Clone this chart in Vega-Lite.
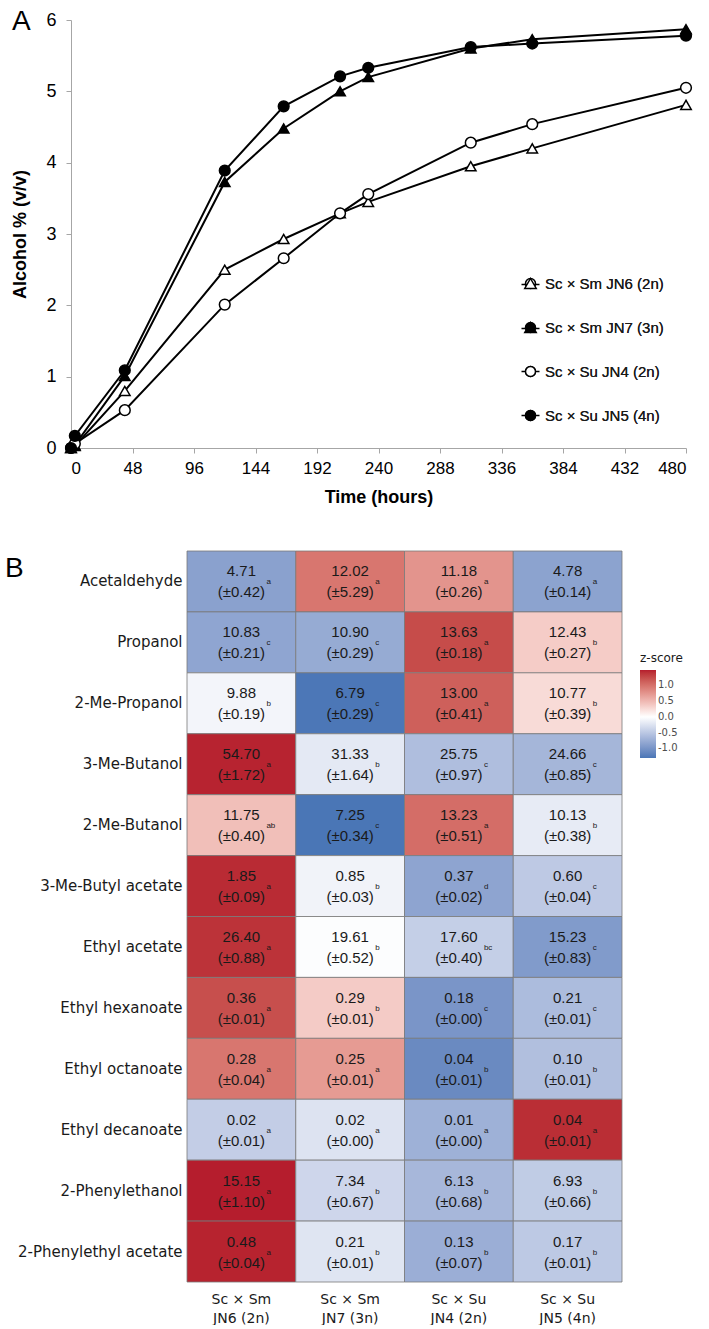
{
  "$schema": "https://vega.github.io/schema/vega-lite/v6.json",
  "background": "white",
  "padding": {"left": 5, "top": 8, "right": 0, "bottom": 0},
  "bounds": "flush",
  "spacing": 103,
  "config": {"view": {"stroke": null}},
  "datasets": {
    "growth": [
      {"series": "Sc × Sm JN6 (2n)", "t": 0, "v": 0},
      {"series": "Sc × Sm JN6 (2n)", "t": 3, "v": 0.03},
      {"series": "Sc × Sm JN6 (2n)", "t": 42, "v": 0.80},
      {"series": "Sc × Sm JN6 (2n)", "t": 120, "v": 2.50},
      {"series": "Sc × Sm JN6 (2n)", "t": 166, "v": 2.93},
      {"series": "Sc × Sm JN6 (2n)", "t": 210, "v": 3.29},
      {"series": "Sc × Sm JN6 (2n)", "t": 232, "v": 3.45},
      {"series": "Sc × Sm JN6 (2n)", "t": 312, "v": 3.95},
      {"series": "Sc × Sm JN6 (2n)", "t": 360, "v": 4.20},
      {"series": "Sc × Sm JN6 (2n)", "t": 480, "v": 4.81},
      {"series": "Sc × Sm JN7 (3n)", "t": 0, "v": 0},
      {"series": "Sc × Sm JN7 (3n)", "t": 3, "v": 0.04},
      {"series": "Sc × Sm JN7 (3n)", "t": 42, "v": 1.01},
      {"series": "Sc × Sm JN7 (3n)", "t": 120, "v": 3.73},
      {"series": "Sc × Sm JN7 (3n)", "t": 166, "v": 4.48},
      {"series": "Sc × Sm JN7 (3n)", "t": 210, "v": 5.00},
      {"series": "Sc × Sm JN7 (3n)", "t": 232, "v": 5.20},
      {"series": "Sc × Sm JN7 (3n)", "t": 312, "v": 5.60},
      {"series": "Sc × Sm JN7 (3n)", "t": 360, "v": 5.73},
      {"series": "Sc × Sm JN7 (3n)", "t": 480, "v": 5.87},
      {"series": "Sc × Su JN4 (2n)", "t": 0, "v": 0},
      {"series": "Sc × Su JN4 (2n)", "t": 3, "v": 0.06},
      {"series": "Sc × Su JN4 (2n)", "t": 42, "v": 0.53},
      {"series": "Sc × Su JN4 (2n)", "t": 120, "v": 2.01},
      {"series": "Sc × Su JN4 (2n)", "t": 166, "v": 2.66},
      {"series": "Sc × Su JN4 (2n)", "t": 210, "v": 3.29},
      {"series": "Sc × Su JN4 (2n)", "t": 232, "v": 3.56},
      {"series": "Sc × Su JN4 (2n)", "t": 312, "v": 4.28},
      {"series": "Sc × Su JN4 (2n)", "t": 360, "v": 4.54},
      {"series": "Sc × Su JN4 (2n)", "t": 480, "v": 5.05},
      {"series": "Sc × Su JN5 (4n)", "t": 0, "v": 0},
      {"series": "Sc × Su JN5 (4n)", "t": 3, "v": 0.17},
      {"series": "Sc × Su JN5 (4n)", "t": 42, "v": 1.09},
      {"series": "Sc × Su JN5 (4n)", "t": 120, "v": 3.89},
      {"series": "Sc × Su JN5 (4n)", "t": 166, "v": 4.79},
      {"series": "Sc × Su JN5 (4n)", "t": 210, "v": 5.21},
      {"series": "Sc × Su JN5 (4n)", "t": 232, "v": 5.33},
      {"series": "Sc × Su JN5 (4n)", "t": 312, "v": 5.62},
      {"series": "Sc × Su JN5 (4n)", "t": 360, "v": 5.67},
      {"series": "Sc × Su JN5 (4n)", "t": 480, "v": 5.78}
    ],
    "aroma": [
      {"compound": "Acetaldehyde", "strain": "Sc × Sm JN6 (2n)", "mean": "4.71", "sd": "(±0.42)", "letter": "a", "z": -0.872},
      {"compound": "Acetaldehyde", "strain": "Sc × Sm JN7 (3n)", "mean": "12.02", "sd": "(±5.29)", "letter": "a", "z": 0.969},
      {"compound": "Acetaldehyde", "strain": "Sc × Su JN4 (2n)", "mean": "11.18", "sd": "(±0.26)", "letter": "a", "z": 0.757},
      {"compound": "Acetaldehyde", "strain": "Sc × Su JN5 (4n)", "mean": "4.78", "sd": "(±0.14)", "letter": "a", "z": -0.854},
      {"compound": "Propanol", "strain": "Sc × Sm JN6 (2n)", "mean": "10.83", "sd": "(±0.21)", "letter": "c", "z": -0.832},
      {"compound": "Propanol", "strain": "Sc × Sm JN7 (3n)", "mean": "10.90", "sd": "(±0.29)", "letter": "c", "z": -0.780},
      {"compound": "Propanol", "strain": "Sc × Su JN4 (2n)", "mean": "13.63", "sd": "(±0.18)", "letter": "a", "z": 1.253},
      {"compound": "Propanol", "strain": "Sc × Su JN5 (4n)", "mean": "12.43", "sd": "(±0.27)", "letter": "b", "z": 0.359},
      {"compound": "2-Me-Propanol", "strain": "Sc × Sm JN6 (2n)", "mean": "9.88", "sd": "(±0.19)", "letter": "b", "z": -0.089},
      {"compound": "2-Me-Propanol", "strain": "Sc × Sm JN7 (3n)", "mean": "6.79", "sd": "(±0.29)", "letter": "c", "z": -1.290},
      {"compound": "2-Me-Propanol", "strain": "Sc × Su JN4 (2n)", "mean": "13.00", "sd": "(±0.41)", "letter": "a", "z": 1.123},
      {"compound": "2-Me-Propanol", "strain": "Sc × Su JN5 (4n)", "mean": "10.77", "sd": "(±0.39)", "letter": "b", "z": 0.256},
      {"compound": "3-Me-Butanol", "strain": "Sc × Sm JN6 (2n)", "mean": "54.70", "sd": "(±1.72)", "letter": "a", "z": 1.467},
      {"compound": "3-Me-Butanol", "strain": "Sc × Sm JN7 (3n)", "mean": "31.33", "sd": "(±1.64)", "letter": "b", "z": -0.198},
      {"compound": "3-Me-Butanol", "strain": "Sc × Su JN4 (2n)", "mean": "25.75", "sd": "(±0.97)", "letter": "c", "z": -0.596},
      {"compound": "3-Me-Butanol", "strain": "Sc × Su JN5 (4n)", "mean": "24.66", "sd": "(±0.85)", "letter": "c", "z": -0.673},
      {"compound": "2-Me-Butanol", "strain": "Sc × Sm JN6 (2n)", "mean": "11.75", "sd": "(±0.40)", "letter": "ab", "z": 0.453},
      {"compound": "2-Me-Butanol", "strain": "Sc × Sm JN7 (3n)", "mean": "7.25", "sd": "(±0.34)", "letter": "c", "z": -1.304},
      {"compound": "2-Me-Butanol", "strain": "Sc × Su JN4 (2n)", "mean": "13.23", "sd": "(±0.51)", "letter": "a", "z": 1.031},
      {"compound": "2-Me-Butanol", "strain": "Sc × Su JN5 (4n)", "mean": "10.13", "sd": "(±0.38)", "letter": "b", "z": -0.180},
      {"compound": "3-Me-Butyl acetate", "strain": "Sc × Sm JN6 (2n)", "mean": "1.85", "sd": "(±0.09)", "letter": "a", "z": 1.431},
      {"compound": "3-Me-Butyl acetate", "strain": "Sc × Sm JN7 (3n)", "mean": "0.85", "sd": "(±0.03)", "letter": "b", "z": -0.104},
      {"compound": "3-Me-Butyl acetate", "strain": "Sc × Su JN4 (2n)", "mean": "0.37", "sd": "(±0.02)", "letter": "d", "z": -0.840},
      {"compound": "3-Me-Butyl acetate", "strain": "Sc × Su JN5 (4n)", "mean": "0.60", "sd": "(±0.04)", "letter": "c", "z": -0.487},
      {"compound": "Ethyl acetate", "strain": "Sc × Sm JN6 (2n)", "mean": "26.40", "sd": "(±0.88)", "letter": "a", "z": 1.392},
      {"compound": "Ethyl acetate", "strain": "Sc × Sm JN7 (3n)", "mean": "19.61", "sd": "(±0.52)", "letter": "b", "z": -0.021},
      {"compound": "Ethyl acetate", "strain": "Sc × Su JN4 (2n)", "mean": "17.60", "sd": "(±0.40)", "letter": "bc", "z": -0.439},
      {"compound": "Ethyl acetate", "strain": "Sc × Su JN5 (4n)", "mean": "15.23", "sd": "(±0.83)", "letter": "c", "z": -0.932},
      {"compound": "Ethyl hexanoate", "strain": "Sc × Sm JN6 (2n)", "mean": "0.36", "sd": "(±0.01)", "letter": "a", "z": 1.231},
      {"compound": "Ethyl hexanoate", "strain": "Sc × Sm JN7 (3n)", "mean": "0.29", "sd": "(±0.01)", "letter": "b", "z": 0.369},
      {"compound": "Ethyl hexanoate", "strain": "Sc × Su JN4 (2n)", "mean": "0.18", "sd": "(±0.00)", "letter": "c", "z": -0.985},
      {"compound": "Ethyl hexanoate", "strain": "Sc × Su JN5 (4n)", "mean": "0.21", "sd": "(±0.01)", "letter": "c", "z": -0.615},
      {"compound": "Ethyl octanoate", "strain": "Sc × Sm JN6 (2n)", "mean": "0.28", "sd": "(±0.04)", "letter": "a", "z": 0.971},
      {"compound": "Ethyl octanoate", "strain": "Sc × Sm JN7 (3n)", "mean": "0.25", "sd": "(±0.01)", "letter": "a", "z": 0.712},
      {"compound": "Ethyl octanoate", "strain": "Sc × Su JN4 (2n)", "mean": "0.04", "sd": "(±0.01)", "letter": "b", "z": -1.100},
      {"compound": "Ethyl octanoate", "strain": "Sc × Su JN5 (4n)", "mean": "0.10", "sd": "(±0.01)", "letter": "b", "z": -0.583},
      {"compound": "Ethyl decanoate", "strain": "Sc × Sm JN6 (2n)", "mean": "0.02", "sd": "(±0.01)", "letter": "a", "z": -0.45},
      {"compound": "Ethyl decanoate", "strain": "Sc × Sm JN7 (3n)", "mean": "0.02", "sd": "(±0.00)", "letter": "a", "z": -0.25},
      {"compound": "Ethyl decanoate", "strain": "Sc × Su JN4 (2n)", "mean": "0.01", "sd": "(±0.00)", "letter": "a", "z": -0.72},
      {"compound": "Ethyl decanoate", "strain": "Sc × Su JN5 (4n)", "mean": "0.04", "sd": "(±0.01)", "letter": "a", "z": 1.42},
      {"compound": "2-Phenylethanol", "strain": "Sc × Sm JN6 (2n)", "mean": "15.15", "sd": "(±1.10)", "letter": "a", "z": 1.489},
      {"compound": "2-Phenylethanol", "strain": "Sc × Sm JN7 (3n)", "mean": "7.34", "sd": "(±0.67)", "letter": "b", "z": -0.368},
      {"compound": "2-Phenylethanol", "strain": "Sc × Su JN4 (2n)", "mean": "6.13", "sd": "(±0.68)", "letter": "b", "z": -0.656},
      {"compound": "2-Phenylethanol", "strain": "Sc × Su JN5 (4n)", "mean": "6.93", "sd": "(±0.66)", "letter": "b", "z": -0.466},
      {"compound": "2-Phenylethyl acetate", "strain": "Sc × Sm JN6 (2n)", "mean": "0.48", "sd": "(±0.04)", "letter": "a", "z": 1.468},
      {"compound": "2-Phenylethyl acetate", "strain": "Sc × Sm JN7 (3n)", "mean": "0.21", "sd": "(±0.01)", "letter": "b", "z": -0.237},
      {"compound": "2-Phenylethyl acetate", "strain": "Sc × Su JN4 (2n)", "mean": "0.13", "sd": "(±0.07)", "letter": "b", "z": -0.742},
      {"compound": "2-Phenylethyl acetate", "strain": "Sc × Su JN5 (4n)", "mean": "0.17", "sd": "(±0.01)", "letter": "b", "z": -0.489}
    ]
  },
  "vconcat": [
    {
      "width": 615,
      "height": 428,
      "data": {"name": "growth"},
      "title": {"text": "A", "anchor": "start", "frame": "bounds", "orient": "top", "fontSize": 28, "fontWeight": "normal", "font": "Liberation Sans", "baseline": "alphabetic", "offset": 0, "dy": 47, "color": "black"},
      "encoding": {
        "x": {"field": "t", "type": "quantitative", "scale": {"domain": [0, 480], "nice": false},
          "axis": {"values": [0, 48, 96, 144, 192, 240, 288, 336, 384, 432, 480], "title": "Time (hours)", "grid": false,
            "domainColor": "#a6a6a6", "tickColor": "#a6a6a6", "tickSize": 5, "labelFont": "Liberation Sans Narrow, Liberation Sans", "labelFontSize": 17, "labelColor": "black", "labelPadding": 7,
            "titleFont": "Liberation Sans", "titleFontSize": 18, "titleFontWeight": "bold", "titleColor": "black", "titlePadding": 12}},
        "y": {"field": "v", "type": "quantitative", "scale": {"domain": [0, 6], "nice": false},
          "axis": {"values": [0, 1, 2, 3, 4, 5, 6], "title": "Alcohol % (v/v)", "grid": false,
            "domainColor": "#a6a6a6", "tickColor": "#a6a6a6", "tickSize": 5, "labelFont": "Liberation Sans Narrow, Liberation Sans", "labelFontSize": 18, "labelColor": "black", "labelPadding": 10,
            "titleFont": "Liberation Sans", "titleFontSize": 18, "titleFontWeight": "bold", "titleColor": "black", "titlePadding": 16}}
      },
      "layer": [
        {"mark": {"type": "line", "color": "black", "strokeWidth": 2}, "encoding": {"detail": {"field": "series"}}},
        {"transform": [{"filter": {"field": "series", "equal": "Sc × Sm JN6 (2n)"}}],
          "mark": {"type": "point", "shape": "triangle-up", "filled": true, "fill": "white", "stroke": "black", "strokeWidth": 1.5, "size": 110, "opacity": 1}},
        {"transform": [{"filter": {"field": "series", "equal": "Sc × Sm JN7 (3n)"}}],
          "mark": {"type": "point", "shape": "triangle-up", "filled": true, "fill": "black", "stroke": "black", "strokeWidth": 1.5, "size": 110, "opacity": 1}},
        {"transform": [{"filter": {"field": "series", "equal": "Sc × Su JN4 (2n)"}}],
          "mark": {"type": "point", "shape": "circle", "filled": true, "fill": "white", "stroke": "black", "strokeWidth": 1.5, "size": 115, "opacity": 1}},
        {"transform": [{"filter": {"field": "series", "equal": "Sc × Su JN5 (4n)"}}],
          "mark": {"type": "point", "shape": "circle", "filled": true, "fill": "black", "stroke": "black", "strokeWidth": 1.5, "size": 115, "opacity": 1}},
        {"mark": {"type": "point", "filled": true, "strokeWidth": 1.5, "size": 100, "opacity": 0},
          "encoding": {
            "shape": {"field": "series", "type": "nominal", "scale": {"domain": ["Sc × Sm JN6 (2n)", "Sc × Sm JN7 (3n)", "Sc × Su JN4 (2n)", "Sc × Su JN5 (4n)"],
              "range": [
                "M-1.8,0.2H-0.69M0.69,0.2H1.8M0,-1L1.15,1L-1.15,1Z",
                "M-1.8,0.2H-0.69M0.69,0.2H1.8M0,-1L1.15,1L-1.15,1ZM0,-0.667L0.8625,0.833L-0.8625,0.833ZM0,-0.333L0.575,0.667L-0.575,0.667ZM0,0L0.2875,0.5L-0.2875,0.5ZM0,0.25L0.05,0.35L-0.05,0.35Z",
                "M-1.8,0H-1M1,0H1.8M-1,0A1,1,0,1,0,1,0A1,1,0,1,0,-1,0Z",
                "M-1.8,0H-1M1,0H1.8M-1,0A1,1,0,1,0,1,0A1,1,0,1,0,-1,0ZM-0.75,0A0.75,0.75,0,1,0,0.75,0A0.75,0.75,0,1,0,-0.75,0ZM-0.5,0A0.5,0.5,0,1,0,0.5,0A0.5,0.5,0,1,0,-0.5,0ZM-0.25,0A0.25,0.25,0,1,0,0.25,0A0.25,0.25,0,1,0,-0.25,0ZM-0.12,0H0.12"]},
              "legend": {"title": null, "orient": "none", "legendX": 452, "legendY": 256, "symbolSize": 100, "symbolFillColor": "white", "symbolStrokeColor": "black", "symbolStrokeWidth": 1.5, "symbolOpacity": 1, "labelFont": "Liberation Sans Narrow, Liberation Sans", "labelFontSize": 15, "labelColor": "#1a1a1a", "rowPadding": 27, "labelOffset": 7}},
            "fill": {"field": "series", "type": "nominal", "scale": {"domain": ["Sc × Sm JN6 (2n)", "Sc × Sm JN7 (3n)", "Sc × Su JN4 (2n)", "Sc × Su JN5 (4n)"], "range": ["white", "black", "white", "black"]},
              "legend": {"title": null, "orient": "none", "legendX": 452, "legendY": 256, "symbolSize": 100, "symbolFillColor": "white", "symbolStrokeColor": "black", "symbolStrokeWidth": 1.5, "symbolOpacity": 1, "labelFont": "Liberation Sans Narrow, Liberation Sans", "labelFontSize": 15, "labelColor": "#1a1a1a", "rowPadding": 27, "labelOffset": 7}},
            "stroke": {"field": "series", "type": "nominal", "scale": {"domain": ["Sc × Sm JN6 (2n)", "Sc × Sm JN7 (3n)", "Sc × Su JN4 (2n)", "Sc × Su JN5 (4n)"], "range": ["black", "black", "black", "black"]},
              "legend": {"title": null, "orient": "none", "legendX": 452, "legendY": 256, "symbolSize": 100, "symbolFillColor": "white", "symbolStrokeColor": "black", "symbolStrokeWidth": 1.5, "symbolOpacity": 1, "labelFont": "Liberation Sans Narrow, Liberation Sans", "labelFontSize": 15, "labelColor": "#1a1a1a", "rowPadding": 27, "labelOffset": 7}}
          }}
      ]
    },
    {
      "bounds": "flush",
      "spacing": 20,
      "hconcat": [
        {
          "width": 96,
          "height": 731,
          "data": {"values": [{"k": 1}]},
          "title": {"text": "B", "anchor": "start", "frame": "group", "orient": "top", "fontSize": 28, "fontWeight": "normal", "font": "Liberation Sans", "baseline": "alphabetic", "offset": 0, "dx": -66, "dy": 54, "color": "black"},
          "mark": {"type": "point", "opacity": 0},
          "encoding": {}
        },
        {
          "width": 435,
          "height": 731,
          "data": {"name": "aroma"},
          "encoding": {
            "x": {"field": "strain", "type": "nominal", "sort": ["Sc × Sm JN6 (2n)", "Sc × Sm JN7 (3n)", "Sc × Su JN4 (2n)", "Sc × Su JN5 (4n)"],
              "scale": {"paddingInner": 0, "paddingOuter": 0},
              "axis": {"orient": "bottom", "title": null, "domain": false, "ticks": false, "labelAngle": 0, "labelFont": "DejaVu Sans", "labelFontSize": 14, "labelColor": "#1a1a1a", "labelPadding": 10, "labelLineHeight": 19, "labelBaseline": "top",
                "labelExpr": "[substring(datum.value, 0, 7), substring(datum.value, 8)]"}},
            "y": {"field": "compound", "type": "nominal", "sort": ["Acetaldehyde", "Propanol", "2-Me-Propanol", "3-Me-Butanol", "2-Me-Butanol", "3-Me-Butyl acetate", "Ethyl acetate", "Ethyl hexanoate", "Ethyl octanoate", "Ethyl decanoate", "2-Phenylethanol", "2-Phenylethyl acetate"],
              "scale": {"paddingInner": 0, "paddingOuter": 0},
              "axis": {"title": null, "domain": false, "ticks": false, "labelFont": "DejaVu Sans", "labelFontSize": 15, "labelColor": "#1a1a1a", "labelPadding": 5}}
          },
          "layer": [
            {"mark": {"type": "rect", "stroke": "#7a7a7a", "strokeWidth": 0.8},
              "encoding": {"fill": {"field": "z", "type": "quantitative",
                "scale": {"domain": [-1.304, 0, 1.489], "range": ["#4a76b6", "#ffffff", "#b51d2d"], "interpolate": "lab"},
                "legend": {"title": "z-score", "orient": "none", "legendX": 569, "legendY": 102, "direction": "vertical", "gradientLength": 88, "gradientThickness": 16, "values": [-1, -0.5, 0, 0.5, 1], "format": ".1f",
                  "labelExpr": "replace(datum.label, '−', '-')",
                  "titleFont": "DejaVu Sans", "titleFontSize": 12, "titleFontWeight": "normal", "titleColor": "#1a1a1a", "titlePadding": 5,
                  "labelFont": "DejaVu Sans", "labelFontSize": 10, "labelColor": "#4d4d4d", "gradientStrokeWidth": 0}}}},
            {"mark": {"type": "text", "dy": -10, "font": "Liberation Sans", "fontSize": 15, "color": "#1a1a1a"}, "encoding": {"text": {"field": "mean"}}},
            {"mark": {"type": "text", "dy": 11, "font": "Liberation Sans", "fontSize": 15, "color": "#1a1a1a"}, "encoding": {"text": {"field": "sd"}}},
            {"mark": {"type": "text", "dx": 25, "dy": 1, "align": "left", "font": "Liberation Sans", "fontSize": 8, "color": "#1a1a1a"}, "encoding": {"text": {"field": "letter"}}}
          ]
        }
      ]
    }
  ]
}
